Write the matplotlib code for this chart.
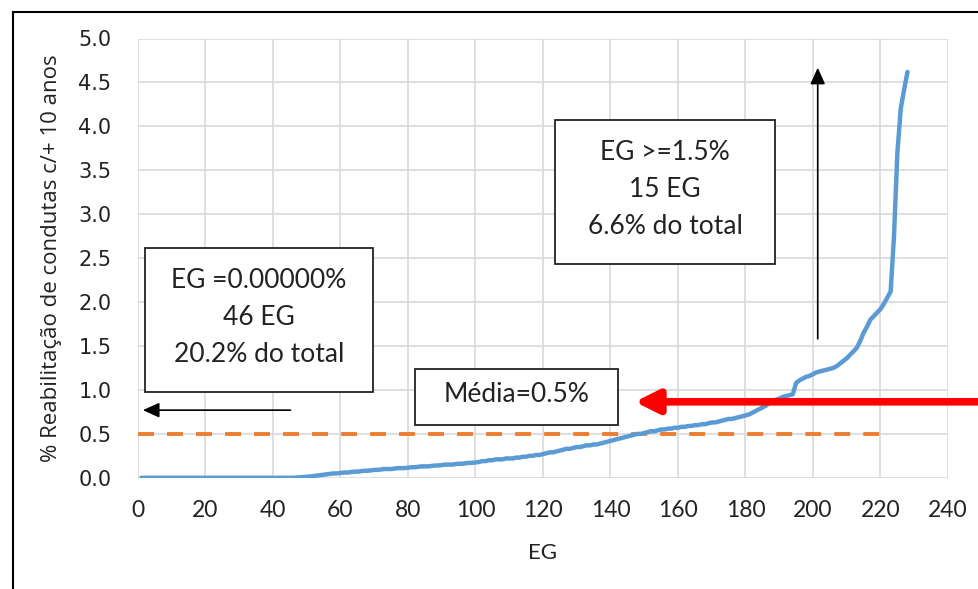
import matplotlib
matplotlib.use("Agg")
import matplotlib.pyplot as plt
from matplotlib.patches import Rectangle
from matplotlib.lines import Line2D

# EG ordered by % rehabilitation of pipes older than 10 years
eg_index = list(range(1, 229))
reab_pct = ([0.0] * 46 +
            [0.003, 0.006, 0.009, 0.012, 0.015, 0.02,
             0.025, 0.03, 0.035, 0.04, 0.045, 0.05, 0.05, 0.055,
             0.06, 0.06, 0.065, 0.07, 0.07, 0.075, 0.08, 0.08, 0.085, 0.09,
             0.09, 0.095, 0.10, 0.10, 0.10, 0.105, 0.11, 0.11, 0.11, 0.115,
             0.12, 0.12, 0.125, 0.13, 0.13, 0.13, 0.135, 0.14, 0.14, 0.145,
             0.15, 0.15, 0.15, 0.155, 0.16, 0.16, 0.165, 0.17, 0.17, 0.175,
             0.18, 0.19, 0.19, 0.20, 0.20, 0.21, 0.21, 0.21, 0.22, 0.22,
             0.22, 0.23, 0.23, 0.24, 0.24, 0.25, 0.25, 0.26, 0.26, 0.27,
             0.28, 0.29, 0.29, 0.30, 0.31, 0.32, 0.33, 0.33, 0.34, 0.35,
             0.35, 0.36, 0.37, 0.37, 0.38, 0.38, 0.39, 0.40, 0.41, 0.42,
             0.43, 0.44, 0.45, 0.46, 0.47, 0.48, 0.49, 0.50, 0.50, 0.51,
             0.52, 0.53, 0.53, 0.54, 0.55, 0.55, 0.56, 0.56, 0.57, 0.57,
             0.58, 0.58, 0.59, 0.59, 0.60, 0.60, 0.61, 0.61, 0.62, 0.63,
             0.63, 0.64, 0.65, 0.66, 0.67, 0.67, 0.68, 0.69, 0.70, 0.71,
             0.72, 0.74, 0.76, 0.78, 0.80, 0.82, 0.85, 0.87, 0.89, 0.90,
             0.92, 0.93, 0.94, 0.95, 1.08, 1.11, 1.13, 1.15, 1.16, 1.18,
             1.20, 1.21, 1.22, 1.23, 1.24, 1.25, 1.27, 1.30, 1.33, 1.36,
             1.40, 1.44, 1.48,
             1.56, 1.65, 1.72, 1.80, 1.84, 1.88, 1.92, 1.98, 2.05, 2.12,
             2.75, 3.70, 4.20, 4.42, 4.62])

media_x = [0, 220]
media_y = [0.5, 0.5]

x_ticks = list(range(0, 241, 20))
y_ticks = [i * 0.5 for i in range(11)]

box_texts = ["EG =0.00000%\n46 EG\n20.2% do total",
             "EG >=1.5%\n15 EG\n6.6% do total",
             "Média=0.5%"]

W, H = 979, 589
fig = plt.figure(figsize=(W / 100, H / 100), dpi=100)
ax = fig.add_axes([138 / W, 1 - 477.8 / H, 810 / W, 439.3 / H])

ax.plot(eg_index, reab_pct, color="#5B9BD5", lw=3.2, solid_capstyle="round", zorder=3)
ax.plot(media_x, media_y, color="#ED7D31", lw=2.8, dashes=(4.1, 3.36), zorder=2)

ax.set_xlim(0, 240)
ax.set_ylim(0, 5)
ax.set_xticks(x_ticks)
ax.set_yticks(y_ticks)
ax.set_yticklabels(["%.1f" % v for v in y_ticks], fontfamily="DejaVu Sans", fontsize=15, color="#222222")
ax.set_xticklabels([str(v) for v in x_ticks], fontfamily="Lato", fontsize=16.5, color="#222222")
ax.tick_params(axis="y", length=0, pad=19)
ax.tick_params(axis="x", length=0, pad=16)
ax.grid(True, color="#D9D9D9", lw=1.2)
ax.set_axisbelow(True)
for s in ax.spines.values():
    s.set_visible(False)

ax.set_ylabel("% Reabilitação de condutas c/+ 10 anos", fontfamily="Open Sans",
              fontsize=16, color="#222222", labelpad=12)
ax.set_xlabel("EG", fontfamily="Lato", fontsize=16, color="#222222", labelpad=16)

# annotation boxes (x0, x1, y0, y1 in data units)
boxes = [(2.1, 69.6, 0.98, 2.62), (123.6, 188.7, 2.43, 4.07), (82.1, 142.2, 0.6, 1.24)]
for (x0, x1, y0, y1), txt in zip(boxes, box_texts):
    ax.add_patch(Rectangle((x0, y0), x1 - x0, y1 - y0, facecolor="white",
                           edgecolor="#222222", lw=1.3, zorder=4))
    ax.text((x0 + x1) / 2, (y0 + y1) / 2 + 0.03, txt, ha="center", va="center",
            fontfamily="Lato", fontsize=19, color="#222222", linespacing=1.6, zorder=5)

# arrows
ax.annotate("", xy=(0.6, 0.77), xytext=(46, 0.77),
            arrowprops=dict(arrowstyle="-|>,head_length=1.0,head_width=0.45", color="black", lw=1.2))
ax.annotate("", xy=(201.4, 4.7), xytext=(201.4, 1.55),
            arrowprops=dict(arrowstyle="-|>,head_length=1.0,head_width=0.45", color="black", lw=1.2))
ax.annotate("", xy=(146.4, 0.865), xytext=(253, 0.865), annotation_clip=False,
            arrowprops=dict(arrowstyle="-|>,head_length=1.4,head_width=0.7", color="#FF0000", lw=5.5))

# outer frame, cut by the image edges
fig.add_artist(Line2D([13 / W, 13 / W], [0, 1 - 12 / H], color="black", lw=1.5))
fig.add_artist(Line2D([13 / W, 1], [1 - 12 / H, 1 - 12 / H], color="black", lw=1.5))

fig.savefig("out.png", dpi=100)
